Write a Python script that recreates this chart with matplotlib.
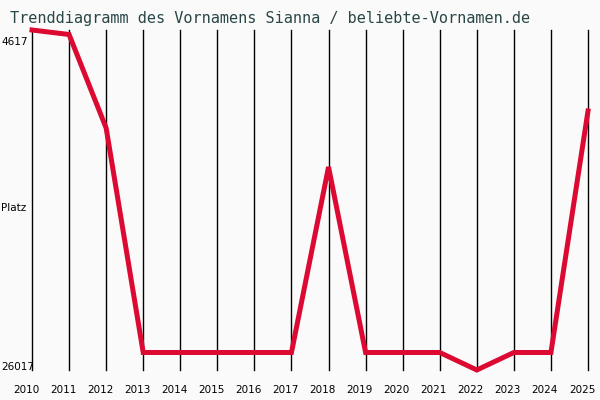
import matplotlib
matplotlib.use('Agg')
import matplotlib.pyplot as plt
import matplotlib.transforms as mtransforms

# Daten: Platzierung pro Jahr
jahre = [2010, 2011, 2012, 2013, 2014, 2015, 2016, 2017,
         2018, 2019, 2020, 2021, 2022, 2023, 2024, 2025]
platz = [4617, 4900, 10785, 24915, 24915, 24915, 24915, 24915,
         13240, 24915, 24915, 24915, 26017, 24915, 24915, 9715]
bester = 4617
schlechtester = 26017
titel = 'Trenddiagramm des Vornamens Sianna / beliebte-Vornamen.de'

fig = plt.figure(figsize=(6, 4), dpi=100, facecolor='#fafafa')
ax = fig.add_axes([32 / 600, 30 / 400, 556 / 600, 340 / 400])
ax.set_facecolor('#fafafa')

# senkrechte Linien pro Jahr
for j in jahre:
    ax.axvline(j, color='black', linewidth=1.0, zorder=1, clip_on=False)

ax.plot(jahre, platz, color='#dc0a32', linewidth=3.6,
        solid_joinstyle='miter', clip_on=False, zorder=3)

ax.set_xlim(jahre[0], jahre[-1])
ax.set_ylim(schlechtester, bester)

for s in ax.spines.values():
    s.set_visible(False)
ax.set_yticks([])
ax.set_xticks(jahre)
ax.set_xticklabels([str(j) for j in jahre], fontsize=7.5, family='DejaVu Sans')
ax.tick_params(axis='x', length=0, pad=11)
verschiebung = mtransforms.ScaledTranslation(-6 / 100, 0, fig.dpi_scale_trans)
for lab in ax.get_xticklabels():
    lab.set_transform(lab.get_transform() + verschiebung)

fig.text(1 / 600, 1 - 42 / 400, str(bester), fontsize=7.5, va='center', ha='left')
fig.text(1 / 600, 1 - 367 / 400, str(schlechtester), fontsize=7.5, va='center', ha='left')
fig.text(1 / 600, 1 - 208 / 400, 'Platz', fontsize=7.5, va='center', ha='left')

fig.text(10 / 600, 1 - 18 / 400, titel, fontsize=11, family='DejaVu Sans Mono',
         color='#2a4646', va='center', ha='left')

fig.savefig('out.png', dpi=100, facecolor=fig.get_facecolor())
